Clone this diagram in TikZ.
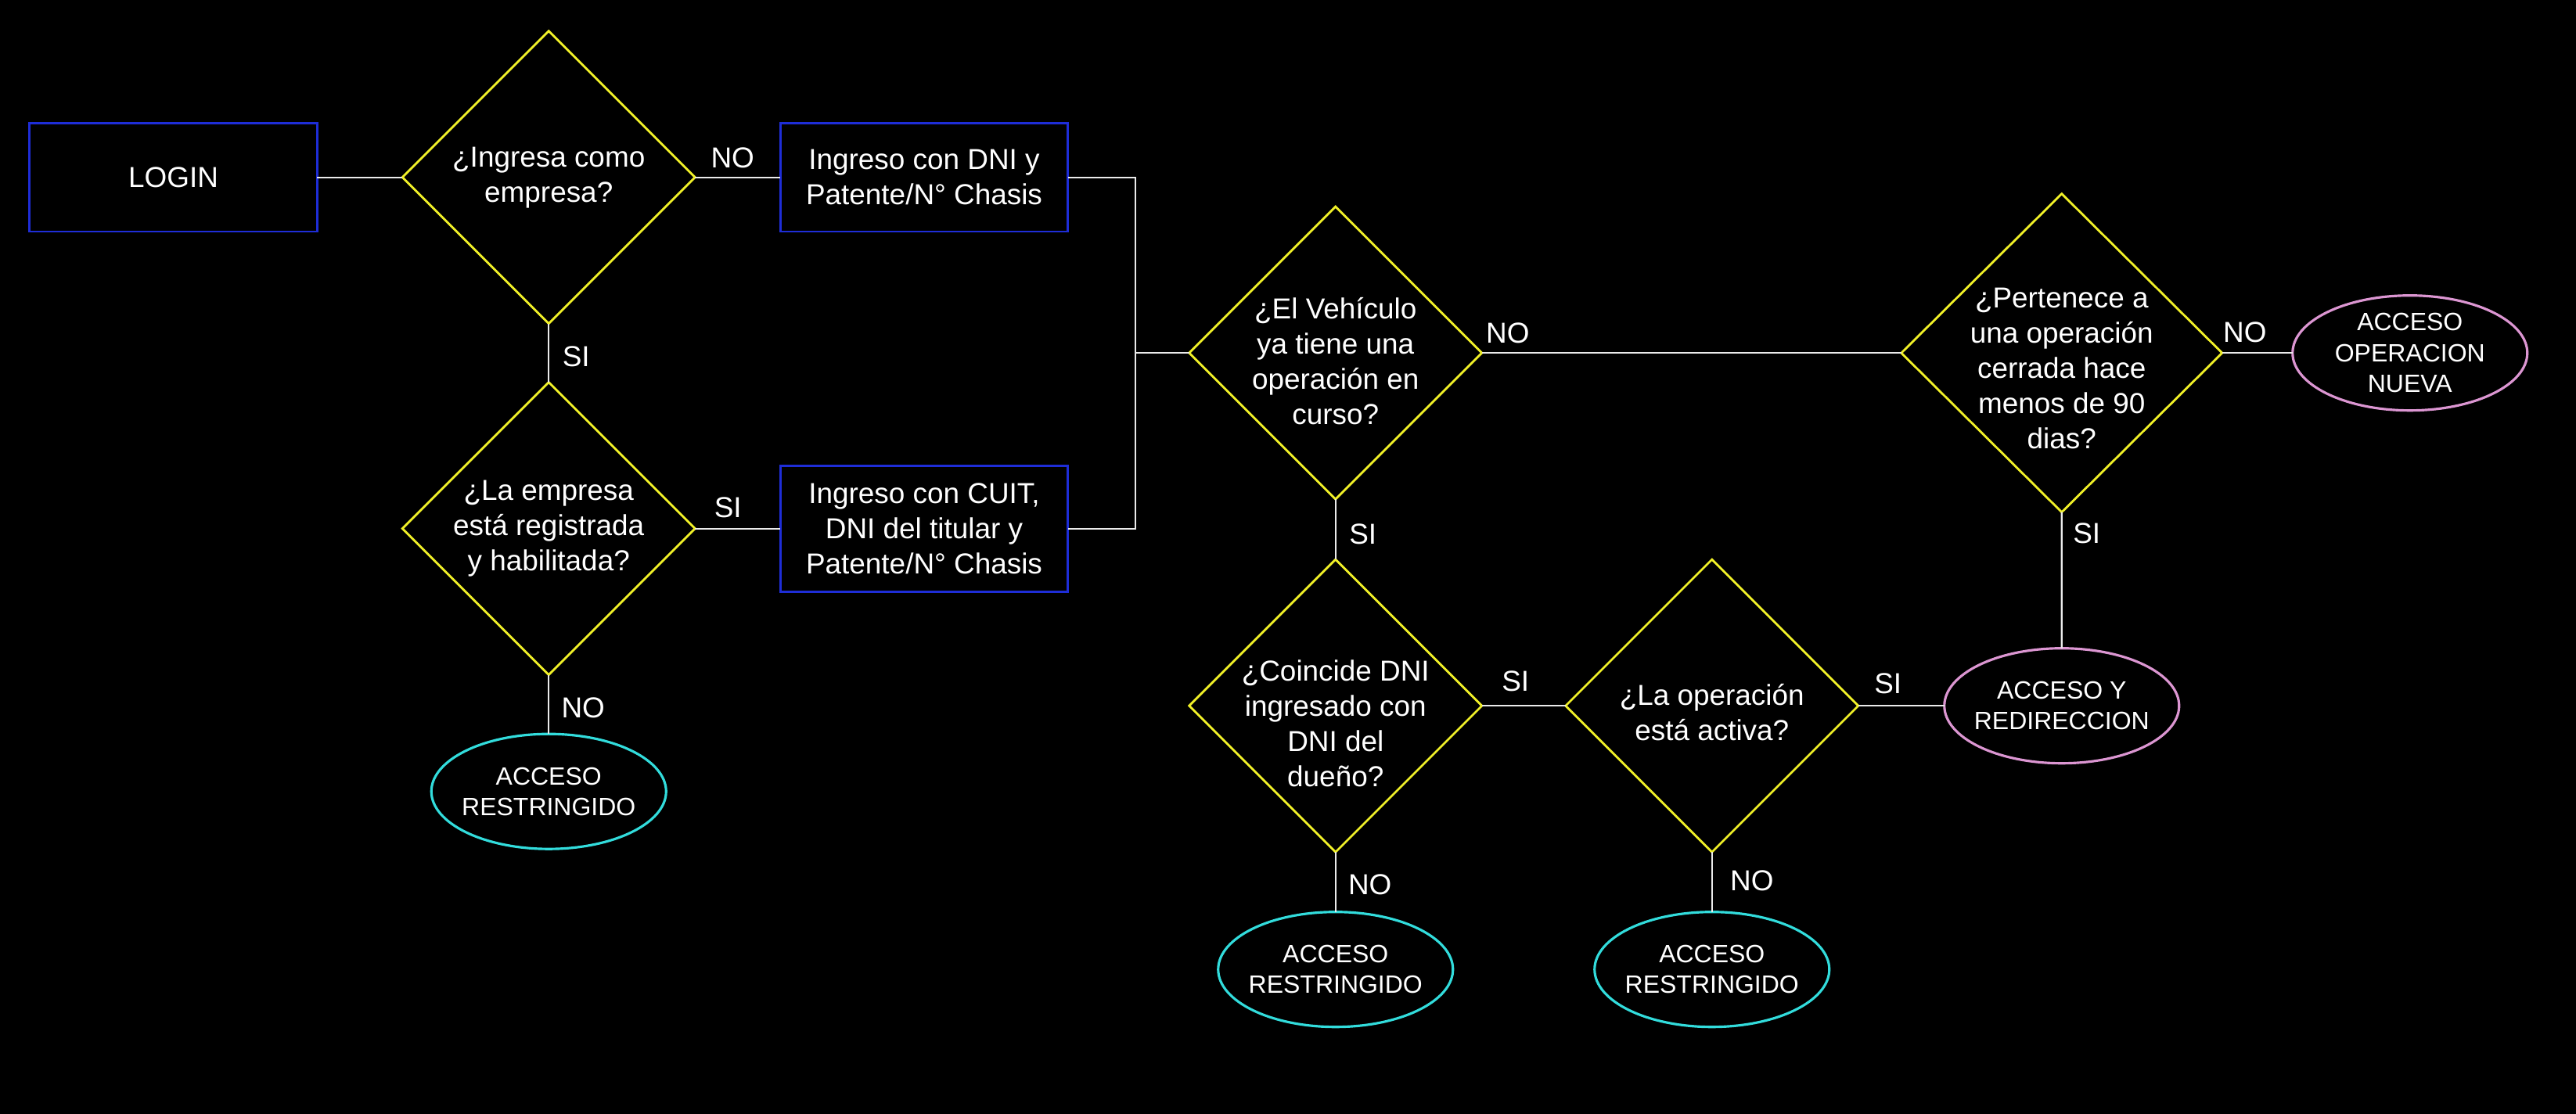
\documentclass[tikz,border=0pt]{standalone}
\usepackage{fontspec}
\setmainfont{Liberation Sans}
\usetikzlibrary{positioning,calc}
\usetikzlibrary{shapes.geometric}

\definecolor{azul}{RGB}{30,45,215}
\definecolor{amarillo}{RGB}{240,240,40}
\definecolor{cian}{RGB}{50,220,220}
\definecolor{rosa}{RGB}{220,150,210}
\definecolor{linea}{RGB}{235,235,235}

\tikzset{
  caja/.style={draw=azul, line width=0.8pt, outer sep=0pt,
    minimum width=3.675cm, minimum height=1.386cm, align=center,
    text=white, font={\fontsize{10.5}{12.8}\selectfont}},
  rombo/.style={diamond, draw=amarillo, line width=0.8pt, outer sep=0pt,
    minimum width=3.74cm, minimum height=3.74cm, inner sep=0pt},
  txt/.style={text=white, align=center, inner sep=0pt,
    font={\fontsize{10.5}{12.8}\selectfont}},
  fin/.style={ellipse, line width=0.9pt, outer sep=0pt,
    minimum width=3.0cm, minimum height=1.47cm, inner sep=-0.1cm,
    align=center, text=white, font={\fontsize{9.1}{11.2}\selectfont}},
  restr/.style={fin, draw=cian},
  acceso/.style={fin, draw=rosa},
  lbl/.style={text=white, inner sep=0pt,
    font={\fontsize{10.5}{12.8}\selectfont}},
  con/.style={draw=linea, line width=0.6pt},
}

\begin{document}
\begin{tikzpicture}
   \fill[black] (0,0) rectangle (32.92,-14.24);
   \useasboundingbox (0,0) rectangle (32.92,-14.24);

   % login
   \node[caja]                           (l0) at (2.215,-2.267) {LOGIN};
   \node[rombo, right=1.09cm of l0]      (d1) {};
   \node[caja, right=1.09cm of d1]       (b1) {Ingreso con DNI y\\Patente/N° Chasis};

   % empresa
   \node[rombo, below=0.75cm of d1]      (d2) {};
   \node[caja, minimum height=1.61cm, right=1.09cm of d2]
                                         (b2) {Ingreso con CUIT,\\DNI del titular y\\Patente/N° Chasis};
   \node[restr, below=0.755cm of d2]     (r1) {ACCESO\\RESTRINGIDO};

   % vehiculo
   \coordinate (j0) at ($(b1.east)!0.5!(b2.east)+(0.86,0)$);
   \node[rombo] (d3) at ($(j0)+(2.56,0)$) {};
   \node[rombo, minimum width=4.1cm, minimum height=4.07cm,
         right=5.36cm of d3]             (d4) {};
   \node[acceso, right=0.9cm of d4]      (r4) {ACCESO\\OPERACION\\NUEVA};

   % operacion en curso
   \node[rombo, below=0.77cm of d3]      (d5) {};
   \node[rombo, right=1.07cm of d5]      (d6) {};
   \node[acceso, right=1.1cm of d6]      (r5) {ACCESO Y\\REDIRECCION};
   \node[restr, below=0.765cm of d5]     (r2) {ACCESO\\RESTRINGIDO};
   \node[restr, below=0.765cm of d6]     (r3) {ACCESO\\RESTRINGIDO};

   % preguntas
   \node[txt] (t1) at (d1) {¿Ingresa como\\empresa?};
   \node[txt] (t2) at (d2) {¿La empresa\\está registrada\\y habilitada?};
   \node[txt] (t3) at ($(d3)+(0,-0.1)$) {¿El Vehículo\\ya tiene una\\operación en\\curso?};
   \node[txt] (t4) at ($(d4)+(0,-0.2)$) {¿Pertenece a\\una operación\\cerrada hace\\menos de 90\\dias?};
   \node[txt] (t5) at ($(d5)+(0,-0.23)$) {¿Coincide DNI\\ingresado con\\DNI del\\dueño?};
   \node[txt] (t6) at ($(d6)+(0,-0.08)$) {¿La operación\\está activa?};

   % connectors
   \draw[con] (l0) -- (d1);
   \draw[con] (d1) -- (b1);
   \draw[con] (d1) -- (d2);
   \draw[con] (d2) -- (b2);
   \draw[con] (d2) -- (r1);
   \draw[con] (b1.east) -| (j0) |- (b2.east);
   \draw[con] (j0) -- (d3);
   \draw[con] (d3) -- (d4);
   \draw[con] (d4) -- (r4);
   \draw[con] (d4) -- (r5);
   \draw[con] (d3) -- (d5);
   \draw[con] (d5) -- (d6);
   \draw[con] (d6) -- (r5);
   \draw[con] (d5) -- (r2);
   \draw[con] (d6) -- (r3);

   % SI / NO
   \node[lbl] (s1)  at ($(d1.east)+(0.48,0.25)$)   {NO};
   \node[lbl] (s2)  at ($(d1.south)+(0.35,-0.42)$) {SI};
   \node[lbl] (s3)  at ($(d2.east)+(0.42,0.27)$)   {SI};
   \node[lbl] (s4)  at ($(d2.south)+(0.44,-0.42)$) {NO};
   \node[lbl] (s5)  at ($(d3.east)+(0.33,0.25)$)   {NO};
   \node[lbl] (s6)  at ($(d3.south)+(0.35,-0.45)$) {SI};
   \node[lbl] (s7)  at ($(d4.east)+(0.29,0.26)$)   {NO};
   \node[lbl] (s8)  at ($(d4.south)+(0.32,-0.27)$) {SI};
   \node[lbl] (s9)  at ($(d5.east)+(0.43,0.31)$)   {SI};
   \node[lbl] (s10) at ($(d6.east)+(0.38,0.28)$)   {SI};
   \node[lbl] (s11) at ($(d5.south)+(0.44,-0.42)$) {NO};
   \node[lbl] (s12) at ($(d6.south)+(0.51,-0.37)$) {NO};
\end{tikzpicture}
\end{document}
